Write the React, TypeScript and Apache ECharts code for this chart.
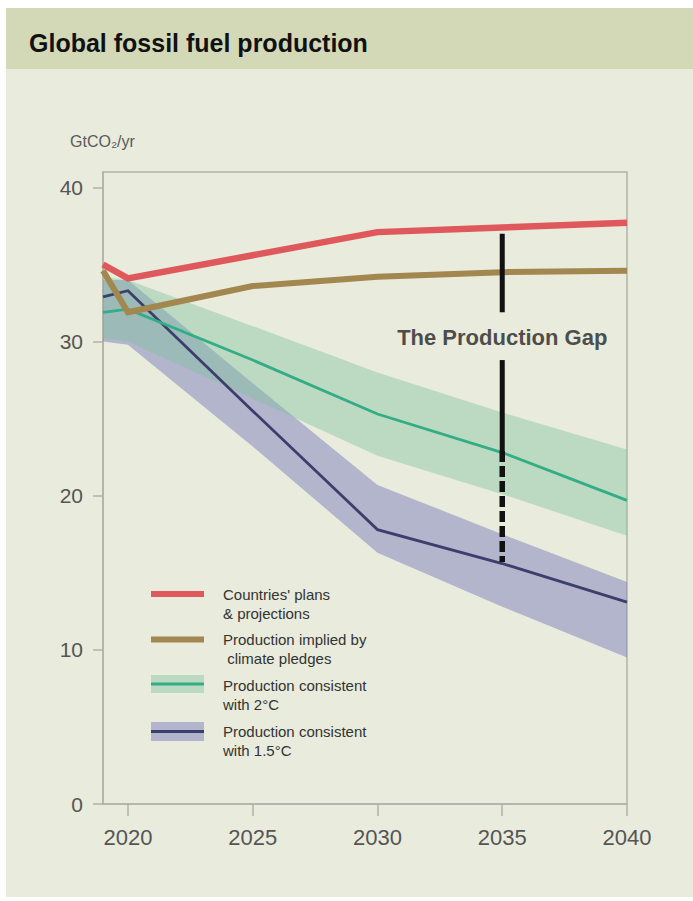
import React, { useEffect, useRef } from "react";
import * as echarts from "echarts";

// ---- data ----
const years = [2019, 2020, 2025, 2030, 2035, 2040];
const plans = [35.0, 34.1, 35.6, 37.1, 37.4, 37.7];
const pledges = [34.6, 31.9, 33.6, 34.2, 34.5, 34.6];
const c2Mid = [31.9, 32.1, 28.8, 25.3, 22.8, 19.7];
const c2Low = [30.2, 30.0, 26.3, 22.6, 20.1, 17.4];
const c2High = [34.2, 34.0, 31.0, 28.0, 25.4, 23.0];
const c15Mid = [32.9, 33.3, 25.5, 17.8, 15.6, 13.1];
const c15Low = [30.0, 29.8, 23.2, 16.3, 12.8, 9.5];
const c15High = [34.0, 34.0, 27.3, 20.7, 17.5, 14.4];
const xTicks = [2020, 2025, 2030, 2035, 2040];
const yTicks = [0, 10, 20, 30, 40];
const gapYear = 2035;
const gapSolid = [
  [37.0, 31.9],
  [28.8, 22.9],
];
const gapDashed = [22.9, 15.7];
const gapLabelValue = 30.25;
const gapLabel = "The Production Gap";
const titleText = "Global fossil fuel production";
const unitText = "GtCO₂/yr";
const legendNames = [
  "Countries' plans\n& projections",
  "Production implied by\n climate pledges",
  "Production consistent\nwith 2°C",
  "Production consistent\nwith 1.5°C",
];

const FONT = "'Liberation Sans', Arial, Helvetica, sans-serif";
const RED = "#df585b";
const BROWN = "#a2874f";
const GREEN = "#33ad85";
const GREEN_BAND = "rgba(126,196,158,0.42)";
const PURPLE = "#3c3f6d";
const PURPLE_BAND = "rgba(124,128,186,0.5)";
const AXIS = "#b2b2a8";

function bandSeries(low: number[], high: number[], color: string) {
  return {
    type: "custom",
    silent: true,
    z: 1,
    data: years.map((y, i) => [y, low[i], high[i]]),
    encode: { x: 0, y: [1, 2] },
    renderItem: (params: any, api: any) => {
      if (params.dataIndex !== 0) return null;
      const top = years.map((y, i) => api.coord([y, high[i]]));
      const bottom = years.map((y, i) => api.coord([y, low[i]])).reverse();
      return {
        type: "polygon",
        shape: { points: top.concat(bottom) },
        style: { fill: color },
      };
    },
  };
}

function lineSeries(values: number[], color: string, width: number, z: number) {
  return {
    type: "line",
    data: years.map((y, i) => [y, values[i]]),
    symbol: "none",
    z,
    lineStyle: { color, width, join: "miter" },
  };
}

export default function App() {
  const ref = useRef<HTMLDivElement>(null);
  useEffect(() => {
    if (!ref.current) return;
    const chart = echarts.init(ref.current, undefined, { renderer: "svg" });
    const legendX0 = 151;
    const legendX1 = 204;
    const textX = 223;
    const legendRows = [
      { y: 594, textTop: 585.5 },
      { y: 639.5, textTop: 630.5 },
      { y: 684, textTop: 676.5 },
      { y: 731.5, textTop: 722.5 },
    ];
    const graphics: any[] = [
      { type: "rect", z: -10, shape: { x: 6, y: 8, width: 687, height: 889 }, style: { fill: "#e9ebdd" } },
      { type: "rect", z: -9, shape: { x: 6, y: 8, width: 687, height: 61 }, style: { fill: "#d3d9b7" } },
      {
        type: "text",
        x: 29,
        y: 43,
        style: { text: titleText, font: `bold 25px ${FONT}`, fill: "#111", verticalAlign: "middle", align: "left" },
      },
      {
        type: "text",
        x: 70,
        y: 141,
        style: { text: unitText, font: `16px ${FONT}`, fill: "#5a5a5a", verticalAlign: "middle", align: "left" },
      },
      // legend
      { type: "rect", shape: { x: legendX0, y: legendRows[2].y - 9, width: legendX1 - legendX0, height: 18 }, style: { fill: GREEN_BAND } },
      { type: "rect", shape: { x: legendX0, y: legendRows[3].y - 9.5, width: legendX1 - legendX0, height: 19 }, style: { fill: PURPLE_BAND } },
      { type: "line", shape: { x1: legendX0, y1: legendRows[0].y, x2: legendX1, y2: legendRows[0].y }, style: { stroke: RED, lineWidth: 6 } },
      { type: "line", shape: { x1: legendX0, y1: legendRows[1].y, x2: legendX1, y2: legendRows[1].y }, style: { stroke: BROWN, lineWidth: 6 } },
      { type: "line", shape: { x1: legendX0, y1: legendRows[2].y, x2: legendX1, y2: legendRows[2].y }, style: { stroke: GREEN, lineWidth: 3 } },
      { type: "line", shape: { x1: legendX0, y1: legendRows[3].y, x2: legendX1, y2: legendRows[3].y }, style: { stroke: PURPLE, lineWidth: 3 } },
      ...legendNames.map((t, i) => ({
        type: "text",
        x: textX,
        y: legendRows[i].textTop,
        style: { text: t, font: `15px ${FONT}`, fill: "#333", lineHeight: 18.5, verticalAlign: "top", align: "left" },
      })),
    ];

    chart.setOption({
      animation: false,
      backgroundColor: "#ffffff",
      grid: {
        left: 103,
        right: 66,
        top: 172,
        bottom: 97,
        show: true,
        borderColor: AXIS,
        borderWidth: 1.5,
        backgroundColor: "transparent",
      },
      xAxis: {
        type: "value",
        min: 2019,
        max: 2040,
        axisLine: { show: true, lineStyle: { color: AXIS, width: 1.5 } },
        axisTick: { show: true, customValues: xTicks, length: 12, lineStyle: { color: AXIS, width: 1.5 } },
        axisLabel: {
          customValues: xTicks,
          formatter: (v: number) => String(v),
          fontSize: 22,
          color: "#555",
          margin: 22,
          fontFamily: FONT,
        },
        splitLine: { show: false },
      },
      yAxis: {
        type: "value",
        min: 0,
        max: 41,
        axisLine: { show: true, lineStyle: { color: AXIS, width: 1.5 } },
        axisTick: { show: true, customValues: yTicks, length: 10, lineStyle: { color: AXIS, width: 1.5 } },
        axisLabel: { customValues: yTicks, fontSize: 21, color: "#555", margin: 20, fontFamily: FONT },
        splitLine: { show: false },
      },
      graphic: graphics,
      series: [
        bandSeries(c15Low, c15High, PURPLE_BAND),
        bandSeries(c2Low, c2High, GREEN_BAND),
        lineSeries(c15Mid, PURPLE, 2.8, 3),
        lineSeries(c2Mid, GREEN, 2.8, 4),
        lineSeries(plans, RED, 6.5, 5),
        lineSeries(pledges, BROWN, 6, 6),
        ...gapSolid.map((seg) => ({
          type: "line",
          data: [
            [gapYear, seg[0]],
            [gapYear, seg[1]],
          ],
          symbol: "none",
          z: 8,
          lineStyle: { color: "#111", width: 5, cap: "butt" },
        })),
        {
          type: "line",
          data: [
            [gapYear, gapDashed[0]],
            [gapYear, gapDashed[1]],
          ],
          symbol: "none",
          z: 8,
          lineStyle: { color: "#111", width: 5.5, type: [11, 4], cap: "butt" },
        },
        {
          type: "scatter",
          data: [[gapYear, gapLabelValue]],
          symbolSize: 1,
          z: 9,
          itemStyle: { color: "transparent" },
          label: {
            show: true,
            position: "inside",
            formatter: gapLabel,
            fontSize: 22,
            fontWeight: "bold",
            color: "#222",
            fontFamily: FONT,
          },
        },
      ],
    });
    return () => chart.dispose();
  }, []);
  return <div ref={ref} style={{ position: "absolute", left: 0, top: 0, width: 693, height: 901 }} />;
}
